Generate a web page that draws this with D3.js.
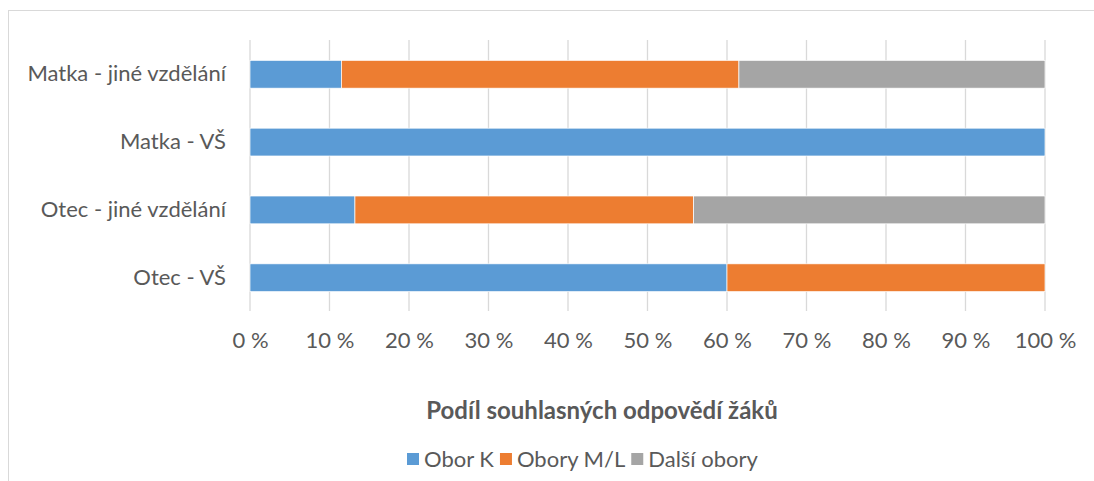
<!DOCTYPE html>
<html>
<head>
<meta charset="utf-8">
<script src="https://cdn.jsdelivr.net/npm/d3@7"></script>
<style>
  body { margin: 0; background: #fff; }
  text { font-family: Lato, sans-serif; fill: #595959; }
</style>
</head>
<body>
<div id="chartArea"></div>
<script>
// Data
let categories = ['Matka - jiné vzdělání', 'Matka - VŠ', 'Otec - jiné vzdělání', 'Otec - VŠ'];
let seriesNames = ['Obor K', 'Obory M/L', 'Další obory'];
let oborK = [11.5, 100, 13.2, 60];
let oboryML = [50, 0, 42.6, 40];
let dalsiObory = [38.5, 0, 44.2, 0];
let colors = ['#5b9bd5', '#ed7d31', '#a5a5a5'];
let xTicks = [0, 10, 20, 30, 40, 50, 60, 70, 80, 90, 100];

let width = 1094, height = 481;
let margins = { top: 40, right: 49, bottom: 170, left: 250 };
let plotW = width - margins.left - margins.right,
    plotH = height - margins.top - margins.bottom;

let svg = d3.select('#chartArea').append('svg')
    .attr('width', width)
    .attr('height', height);

// chart frame
svg.append('rect')
    .attr('x', 8.5).attr('y', 10.5)
    .attr('width', 1100).attr('height', 500)
    .attr('fill', 'none')
    .attr('stroke', '#d9d9d9');

let chart = svg.append('g')
    .attr('transform', 'translate(' + margins.left + ',' + margins.top + ')');

let xScale = d3.scaleLinear().domain([0, 100]).range([0, plotW]);
let yScale = d3.scaleBand().domain(categories).range([0, plotH + 1]).paddingInner(0.59).paddingOuter(0.3);

// gridlines
chart.append('g')
    .selectAll('line')
    .data(xTicks)
    .enter().append('line')
    .attr('x1', d => xScale(d)).attr('x2', d => xScale(d))
    .attr('y1', 0).attr('y2', plotH)
    .attr('stroke', '#d9d9d9')
    .attr('stroke-width', 1.3);

// stacked bars
let rows = categories.map((c, i) => ({ cat: c, k: oborK[i], ml: oboryML[i], d: dalsiObory[i] }));
let stack = d3.stack().keys(['k', 'ml', 'd']);
let layers = stack(rows);

chart.selectAll('g.layer')
    .data(layers)
    .enter().append('g')
    .attr('class', 'layer')
    .attr('fill', (d, i) => colors[i])
    .selectAll('rect')
    .data(d => d.filter(p => p[1] > p[0]))
    .enter().append('rect')
    .attr('x', d => xScale(d[0]))
    .attr('width', d => xScale(d[1]) - xScale(d[0]))
    .attr('y', d => yScale(d.data.cat))
    .attr('height', yScale.bandwidth())
    .attr('stroke', '#fff')
    .attr('stroke-width', 0.7);

// x axis labels
let xAxis = chart.append('g')
    .attr('transform', 'translate(0,' + plotH + ')')
    .call(d3.axisBottom(xScale).tickValues(xTicks).tickSize(0).tickPadding(21).tickFormat(d => d + ' %'));
xAxis.select('.domain').remove();
xAxis.selectAll('text').style('font-size', '22px').attr('fill', '#595959');

// y axis labels
let yAxis = chart.append('g')
    .call(d3.axisLeft(yScale).tickSize(0).tickPadding(24));
yAxis.select('.domain').remove();
yAxis.selectAll('text').style('font-size', '22px').attr('fill', '#595959');

// Axis title
svg.append('text')
    .attr('x', 602)
    .attr('y', 419)
    .attr('text-anchor', 'middle')
    .style('font-size', '24px')
    .style('font-weight', 'bold')
    .text('Podíl souhlasných odpovědí žáků');

// Legend
let legend = svg.append('g').attr('transform', 'translate(407,453)');
let lx = 0;
seriesNames.forEach((name, i) => {
    let g = legend.append('g').attr('transform', 'translate(' + lx + ',0)');
    g.append('rect').attr('width', 12).attr('height', 12).attr('fill', colors[i]);
    let t = g.append('text').attr('x', 17).attr('y', 14)
        .style('font-size', '22px').text(name);
    lx += 17 + t.node().getComputedTextLength() + 6;
});
</script>
</body>
</html>
